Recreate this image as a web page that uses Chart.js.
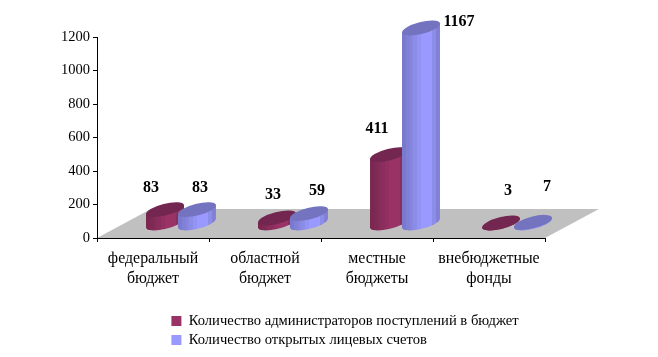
<!DOCTYPE html>
<html><head><meta charset="utf-8">
<style>html,body{margin:0;padding:0;background:#fff}#w{width:658px;height:357px}canvas{display:block}</style>
<script src="https://cdn.jsdelivr.net/npm/chart.js@4"></script></head>
<body><div id="w"><canvas id="c" width="658" height="357"></canvas></div>
<script>
const categories = [['федеральный','бюджет'],['областной','бюджет'],['местные','бюджеты'],['внебюджетные','фонды']];
const seriesNames = ['Количество администраторов поступлений в бюджет','Количество открытых лицевых счетов'];
const administrators = [83,33,411,3];
const accounts = [83,59,1167,7];
const yMax = 1200, yStep = 200;

// hand-placed value labels in the source, relative to each bar's (x, value) point
const labelNudge = [
  [[14,-36],[24,-38],[16,-40],[35,-46.5]],
  [[31,-36],[36,-37],[66,-21],[42,-50]]
];
const depth = {floorX:54, floorY:-29, barX:28, barY:-14.5};
const FONT = '"Liberation Serif","Times New Roman",serif';
const shades = [
  {body:['#7a2851','#7f2a55','#862c59','#8c2e5d','#932f61','#993366','#993366','#993366','#8c2e5d','#7f2a55'], top:'#732650'},
  {body:['#7a7acc','#8080d6','#8686df','#8c8ce9','#9393f3','#9999ff','#9999ff','#9999ff','#8c8ce9','#8080d6'], top:'#7373bf'}
];

function cylinder(ctx, el, s){
  const p = el.getProps(['x','y','base','width'], true);
  const rot = -0.25, k = 0.3;
  const ex = p.width/2;
  const rx = ex/Math.sqrt(Math.cos(rot)**2 + k*k*Math.sin(rot)**2), ry = rx*k;
  const t0 = Math.atan2(-ry*Math.sin(rot), rx*Math.cos(rot));
  const ox = rx*Math.cos(t0)*Math.cos(rot) - ry*Math.sin(t0)*Math.sin(rot);
  const oy = rx*Math.cos(t0)*Math.sin(rot) + ry*Math.sin(t0)*Math.cos(rot);
  const cx = p.x + depth.barX, top = p.y + depth.barY, bot = p.base + depth.barY;
  const g = ctx.createLinearGradient(cx-ex,0,cx+ex,0);
  s.body.forEach((c,i)=>{g.addColorStop(i/s.body.length,c);g.addColorStop((i+1)/s.body.length,c);});
  ctx.save();
  ctx.fillStyle = g;
  ctx.beginPath();
  ctx.moveTo(cx-ox, top-oy);
  ctx.lineTo(cx-ox, bot-oy);
  ctx.ellipse(cx, bot, rx, ry, rot, t0+Math.PI, t0, true);
  ctx.lineTo(cx+ox, top+oy);
  ctx.closePath();
  ctx.fill();
  ctx.fillStyle = s.top;
  ctx.beginPath();
  ctx.ellipse(cx, top, rx, ry, rot, 0, Math.PI*2);
  ctx.fill();
  ctx.restore();
}

const scene = {
  id:'scene',
  afterLayout(chart){
    const l = chart.legend;
    const w = l.width, h = l.height;
    l.left = 167; l.top = 309.3; l.right = 167+w; l.bottom = 309.3+h;
  },
  beforeDatasetsDraw(chart){
    const {ctx, scales:{x,y}} = chart;
    const b = y.getPixelForValue(0);
    ctx.save();
    ctx.fillStyle = '#c0c0c0';
    ctx.beginPath();
    ctx.moveTo(x.left,b);
    ctx.lineTo(x.right,b);
    ctx.lineTo(x.right+depth.floorX,b+depth.floorY);
    ctx.lineTo(x.left+depth.floorX,b+depth.floorY);
    ctx.closePath();
    ctx.fill();
    ctx.restore();
    // series are painted left to right, the second over the first
    chart.data.datasets.forEach((ds,i)=>{
      chart.getDatasetMeta(i).data.forEach(el=>cylinder(ctx, el, shades[i]));
    });
  },
  beforeDatasetDraw(){ return false; },
  afterDatasetsDraw(chart){
    const ctx = chart.ctx;
    ctx.save();
    ctx.font = 'bold 16px '+FONT;
    ctx.fillStyle = '#000';
    ctx.textAlign = 'center';
    ctx.textBaseline = 'middle';
    chart.data.datasets.forEach((ds,i)=>{
      chart.getDatasetMeta(i).data.forEach((el,j)=>{
        const p = el.getProps(['x','y'],true);
        ctx.fillText(String(ds.data[j]), p.x+labelNudge[i][j][0], p.y+labelNudge[i][j][1]);
      });
    });
    ctx.restore();
    // axis lines sit above the floor
    const {x,y} = chart.scales;
    ctx.save();
    ctx.strokeStyle='#000';ctx.lineWidth=1;
    ctx.beginPath();
    ctx.moveTo(x.left+0.5,y.top);ctx.lineTo(x.left+0.5,y.bottom+0.5);ctx.lineTo(x.right,y.bottom+0.5);
    ctx.stroke();
    ctx.restore();
  }
};

new Chart(document.getElementById('c'),{
  type:'bar',
  data:{labels:categories,datasets:[
    {label:seriesNames[0],data:administrators,backgroundColor:'#993366'},
    {label:seriesNames[1],data:accounts,backgroundColor:'#9999ff'}
  ]},
  options:{
    responsive:false,animation:false,
    events:[],
    categoryPercentage:0.571,barPercentage:1.1875,
    layout:{padding:{left:0,top:37,right:113,bottom:0}},
    plugins:{
      tooltip:{enabled:false},
      legend:{
        position:'chartArea',align:'start',
        labels:{
          font:{family:FONT,size:14.6},color:'#000',
          boxWidth:10,boxHeight:10,padding:4.4
        }
      }
    },
    scales:{
      x:{
        afterFit(s){s.height=119;},
        grid:{display:true,drawOnChartArea:false,drawTicks:true,tickLength:4,color:'#000',offset:true},
        border:{color:'#000'},
        ticks:{color:'#000',maxRotation:0,autoSkip:false,padding:6,font:{family:FONT,size:15.9,lineHeight:1.31}}
      },
      y:{
        min:0,max:yMax,
        afterFit(s){s.width=97;},
        grid:{display:true,drawOnChartArea:false,drawTicks:true,tickLength:4,color:'#000'},
        border:{color:'#000'},
        ticks:{stepSize:yStep,color:'#000',padding:3,font:{family:FONT,size:14.5},callback:v=>String(v)}
      }
    }
  },
  plugins:[scene]
});
</script></body></html>
